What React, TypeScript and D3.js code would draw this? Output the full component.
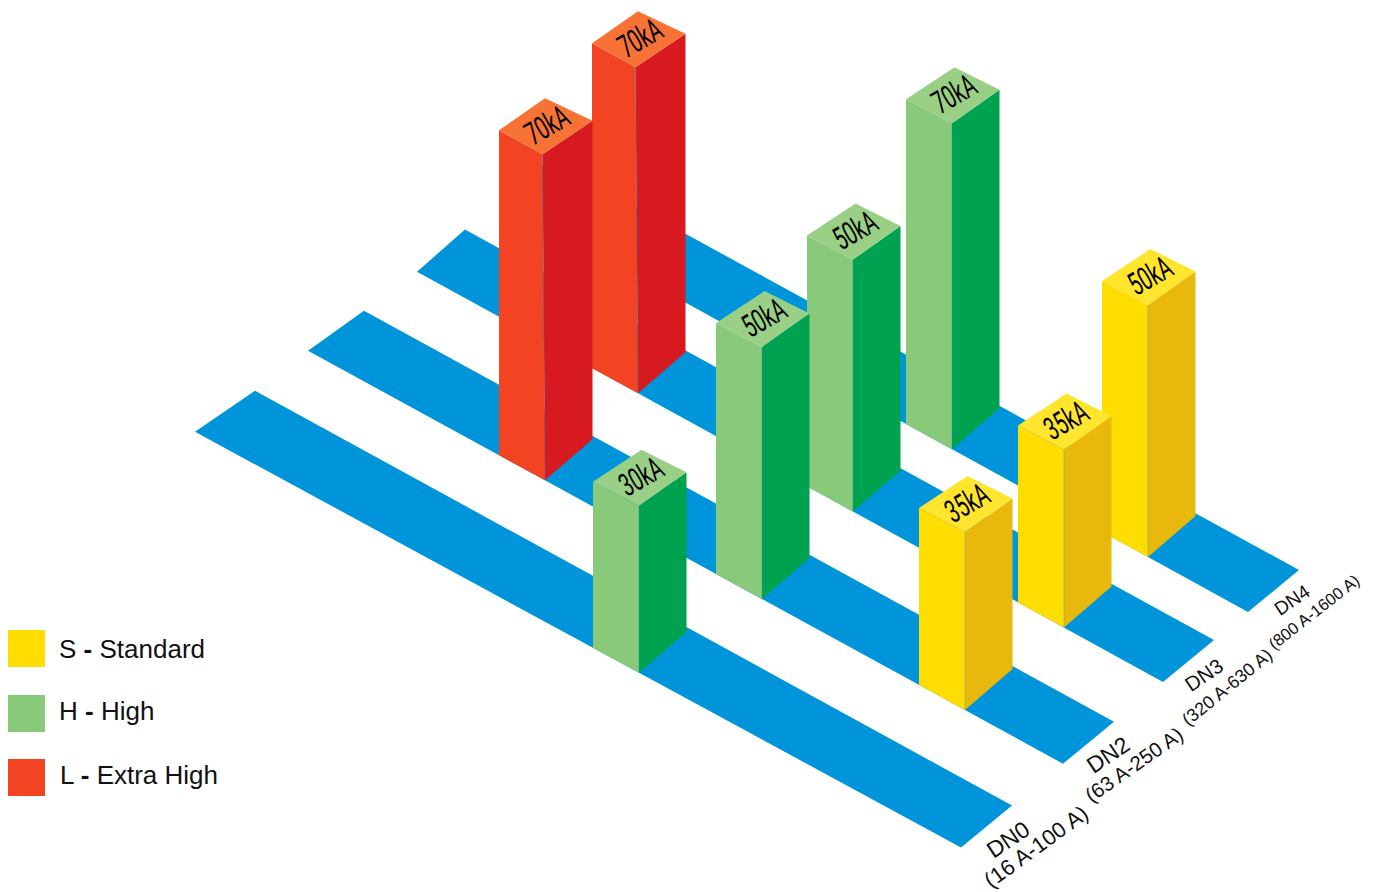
import React from "react";
import * as d3 from "d3";

// Frame sizes: one row per strip, from the front of the diagram to the back.
const frameLabels = ["DN0", "DN2", "DN3", "DN4"];
const frameRanges = ["(16 A-100 A)", "(63 A-250 A)", "(320 A-630 A)", "(800 A-1600 A)"];

// Each column: frame row, breaking class, station along the strip, rated capacity in kA.
const barRows = [0, 1, 1, 1, 2, 2, 2, 3, 3];
const barClasses = ["H", "S", "H", "L", "S", "H", "L", "S", "H"];
const barStations = [322, 98, 301, 518, 99, 310, 525, 100, 296];
const barRatings = [30, 35, 50, 70, 35, 50, 70, 50, 70];

const legendKeys = ["S", "H", "L"];
const legendNames = ["Standard", "High", "Extra High"];

type Shades = { front: string; side: string; top: string };
const shades: Record<string, Shades> = {
  S: { front: "#FFDD00", side: "#E8B90C", top: "#FFE52E" },
  H: { front: "#88C97A", side: "#00A14F", top: "#9AD085" },
  L: { front: "#F24422", side: "#D71A20", top: "#F77335" },
};
const stripBlue = "#0095DA";

// Oblique projection: the strips run down-right, the rows step up-right.
const acrossX = d3.scaleLinear().domain([0, 1, 2, 3]).range([1012, 1114, 1214, 1299]);
const acrossY = d3.scaleLinear().domain([0, 1, 2, 3]).range([805.5, 721.7, 640, 570]);
const along = d3.scaleLinear().domain([0, 1000]).range([0, 1000]);
const farSlope = 0.548;
const nearSlopes = [0.5427, 0.547, 0.55, 0.55];
const nearOffset: [number, number] = [-51, 42];
const height = d3.scaleLinear().domain([30, 35, 50, 70]).range([167, 178, 252, 326]);

const farLengths = [757, 750, 749, 749];
const nearLengths = [766, 755, 746, 748];

// Caption placement, relative to each strip's end; type shrinks toward the back.
const captionSizes = [23, 23, 20.5, 19];
const captionShiftX = [-4, -6, -10, -7];
const captionShiftY = [34, 33, 35, 30];
const rangeSizes = [22, 20.5, 18, 16.5];
const rangeShiftX = [24, 20, 13, 15];
const rangeShiftY = [41, 43, 47, 42];
const rangeAngles = [-36, -35, -39, -38];

type Pt = [number, number];
const ground = (row: number, station: number, near: boolean): Pt => {
  const d = along(station);
  return near
    ? [acrossX(row) + nearOffset[0] - d, acrossY(row) + nearOffset[1] - d * nearSlopes[row]]
    : [acrossX(row) - d, acrossY(row) - d * farSlope];
};
const poly = (pts: Pt[]) => d3.line()(pts) + "Z";

const bars = barRows
  .map((row, i) => ({
    row,
    cls: barClasses[i],
    station: barStations[i],
    rating: barRatings[i],
  }))
  .sort((a, b) => b.row - a.row || b.station - a.station);

function Column({ row, cls, station, rating }: (typeof bars)[number]) {
  const f = ground(row, station, true);
  const h = height(rating);
  const c = shades[cls];
  // The tall red columns lean very slightly at their front edge.
  const lean = cls === "L" ? -2.5 : 0;
  const fl: Pt = [f[0] - 46, f[1] - 25];
  const fr: Pt = [f[0] + 47.5, f[1] - 41];
  const tf: Pt = [f[0] + lean, f[1] - h];
  const tl: Pt = [fl[0], tf[1] - 24];
  const tr: Pt = [fr[0], tf[1] - 33.5];
  const tb: Pt = [tf[0] + 2.5, tf[1] - 56];
  const cx = (tl[0] + tr[0]) / 2 + 1;
  const cy = (tl[1] + tr[1]) / 2 - 1;
  return (
    <g>
      <path d={poly([fl, f, tf, tl])} fill={c.front} />
      <path d={poly([f, fr, tr, tf])} fill={c.side} />
      <path d={poly([tl, tf, tr, tb])} fill={c.top} />
      <line
        x1={f[0]}
        y1={f[1]}
        x2={tf[0]}
        y2={tf[1]}
        stroke={stripBlue}
        strokeOpacity={0.3}
        strokeWidth={1}
      />
      <text
        transform={`translate(${cx},${cy}) rotate(-30) scale(0.62,1)`}
        textAnchor="middle"
        dy="0.36em"
        fontFamily="Roboto,'Liberation Sans',sans-serif"
        fontWeight={400}
        fontSize={32}
        fill="#000"
      >
        {rating}kA
      </text>
    </g>
  );
}

export default function App() {
  return (
    <svg
      width={1376}
      height={892}
      style={{ position: "absolute", left: 0, top: 0, background: "#fff" }}
    >
      {frameLabels.map((_, row) => (
        <path
          key={row}
          fill={stripBlue}
          d={poly([
            ground(row, 0, false),
            ground(row, 0, true),
            ground(row, nearLengths[row], true),
            ground(row, farLengths[row], false),
          ])}
        />
      ))}
      {bars.map((b, i) => (
        <Column key={i} {...b} />
      ))}
      {frameLabels.map((label, row) => {
        const x = acrossX(row);
        const y = acrossY(row);
        return (
          <g
            key={label}
            fontFamily="'Liberation Sans',Arial,sans-serif"
            fill="#111"
            textAnchor="middle"
          >
            <text
              transform={`translate(${x + captionShiftX[row]},${y + captionShiftY[row]}) rotate(-34)`}
              dy="0.35em"
              fontSize={captionSizes[row]}
            >
              {label}
            </text>
            <text
              transform={`translate(${x + rangeShiftX[row]},${y + rangeShiftY[row]}) rotate(${rangeAngles[row]})`}
              dy="0.35em"
              fontSize={rangeSizes[row]}
            >
              {frameRanges[row]}
            </text>
          </g>
        );
      })}
      {legendKeys.map((key, i) => (
        <g key={key} transform={`translate(8,${630 + [0, 65, 129][i]})`}>
          <rect width={37} height={37} fill={shades[key].front} />
          <text
            x={i === 2 ? 52 : 51}
            y={i === 0 ? 28 : 25}
            fontFamily="'Liberation Sans',Arial,sans-serif"
            fontSize={26}
            fill="#111"
          >
            {key} <tspan fontWeight="bold">-</tspan> {legendNames[i]}
          </text>
        </g>
      ))}
    </svg>
  );
}
